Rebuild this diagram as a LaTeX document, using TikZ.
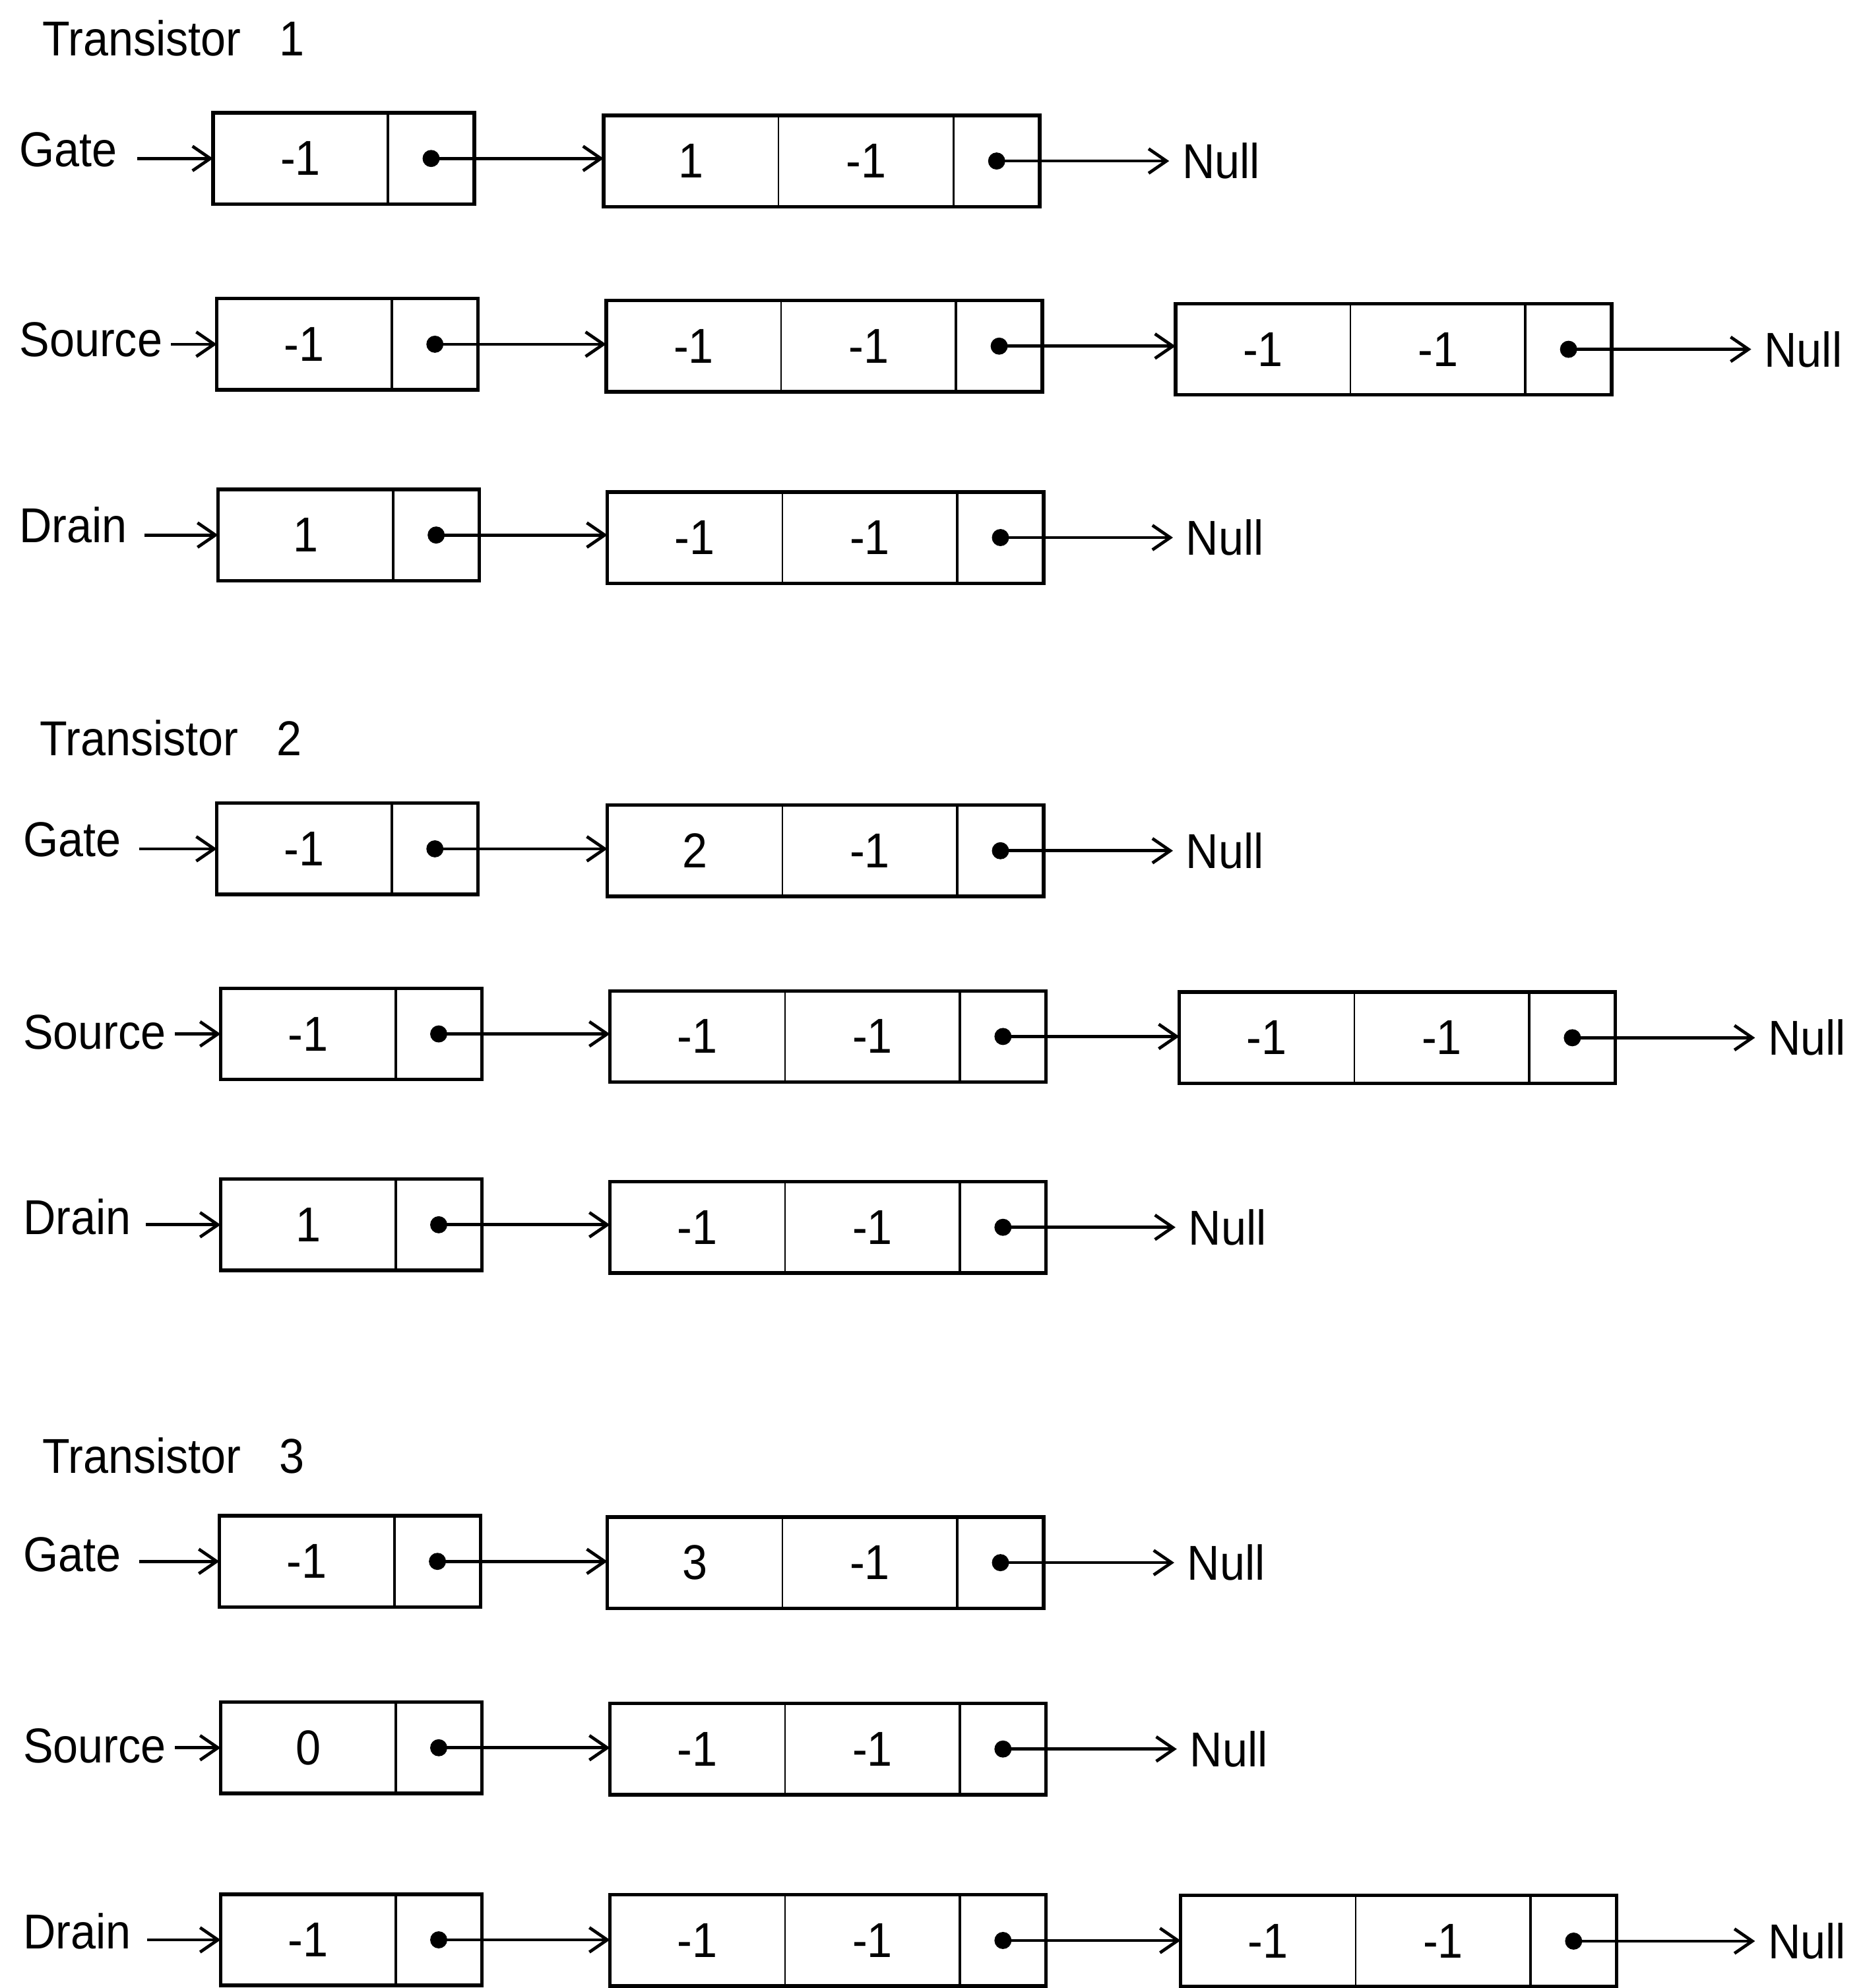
\documentclass[tikz,border=0pt]{standalone}
\usepackage{fontspec}
\setmainfont{Liberation Sans}[FakeStretch=0.92]
\usetikzlibrary{arrows.meta}
\tikzset{
  txt/.style={font=\fontsize{22}{26}\selectfont, inner sep=0pt},
  vcell/.style={txt, anchor=west, minimum width=2.76cm, minimum height=1.44cm, outer sep=0pt},
  pcell/.style={anchor=west, minimum width=1.36cm, minimum height=1.44cm, inner sep=0pt, outer sep=0pt},
  frame/.style={line width=1.6pt},
  sep/.style={line width=0.7pt},
  psep/.style={line width=1.1pt},
  ptr/.style={fill, circle, inner sep=0pt, minimum size=0.27cm},
  arr/.style={line width=1.4pt, -{Straight Barb[length=8pt,width=11pt,line width=1.4pt]}},
  lbl/.style={txt, anchor=west},
  nul/.style={txt, anchor=west, inner xsep=0.2cm},
}
% head cell of a list: value + pointer
\newcommand{\headbox}[4]{%
  \node[vcell] (#1-a) at (#2,#3) {#4};
  \node[pcell] (#1-p) at (#1-a.east) {};
  \draw[frame] (#1-a.north west) rectangle (#1-p.south east);
  \draw[psep] (#1-p.north west) -- (#1-p.south west);
  \node[ptr] (#1-d) at (#1-p.center) {};
}
% list element: two values + pointer
\newcommand{\listbox}[5]{%
  \node[vcell] (#1-a) at (#2,#3) {#4};
  \node[vcell] (#1-b) at (#1-a.east) {#5};
  \node[pcell] (#1-p) at (#1-b.east) {};
  \draw[frame] (#1-a.north west) rectangle (#1-p.south east);
  \draw[sep] (#1-b.north west) -- (#1-b.south west);
  \draw[psep] (#1-p.north west) -- (#1-p.south west);
  \node[ptr] (#1-d) at (#1-p.center) {};
}
\begin{document}
\begin{tikzpicture}[x=0.02cm, y=-0.02cm]
\fill[white] (0,0) rectangle (1469,1568);
\useasboundingbox (0,0) rectangle (1469,1568);

% ---------------- Transistor 1 ----------------
\node[lbl] (t1) at (33,30) {Transistor\hspace{0.6cm}1};

\node[lbl] (g1l) at (15,118) {Gate};
\coordinate (g1s) at (108,125);
\headbox{g1x}{168}{125}{-1}
\listbox{g1y}{476}{127}{1}{-1}
\node[nul] (g1n) at (922,127) {Null};
\draw[arr] (g1s) -- (g1x-a.west);
\draw[arr] (g1x-d.center) -- (g1x-d.center -| g1y-a.west);
\draw[arr] (g1y-d.center) -- (g1y-d.center -| g1n.west);

\node[lbl] (s1l) at (15,268) {Source};
\coordinate (s1s) at (135,271.5);
\headbox{s1x}{171}{271.5}{-1}
\listbox{s1y}{478}{273}{-1}{-1}
\listbox{s1z}{927}{275.5}{-1}{-1}
\node[nul] (s1n) at (1381,275.5) {Null};
\draw[arr] (s1s) -- (s1x-a.west);
\draw[arr] (s1x-d.center) -- (s1x-d.center -| s1y-a.west);
\draw[arr] (s1y-d.center) -- (s1y-d.center -| s1z-a.west);
\draw[arr] (s1z-d.center) -- (s1z-d.center -| s1n.west);

\node[lbl] (d1l) at (15,414) {Drain};
\coordinate (d1s) at (114,422);
\headbox{d1x}{172}{422}{1}
\listbox{d1y}{479}{424}{-1}{-1}
\node[nul] (d1n) at (925,424) {Null};
\draw[arr] (d1s) -- (d1x-a.west);
\draw[arr] (d1x-d.center) -- (d1x-d.center -| d1y-a.west);
\draw[arr] (d1y-d.center) -- (d1y-d.center -| d1n.west);

% ---------------- Transistor 2 ----------------
\node[lbl] (t2) at (31,582) {Transistor\hspace{0.6cm}2};

\node[lbl] (g2l) at (18,662) {Gate};
\coordinate (g2s) at (110,669.5);
\headbox{g2x}{171}{669.5}{-1}
\listbox{g2y}{479}{671}{2}{-1}
\node[nul] (g2n) at (925,671) {Null};
\draw[arr] (g2s) -- (g2x-a.west);
\draw[arr] (g2x-d.center) -- (g2x-d.center -| g2y-a.west);
\draw[arr] (g2y-d.center) -- (g2y-d.center -| g2n.west);

\node[lbl] (s2l) at (18,814) {Source};
\coordinate (s2s) at (138,815.5);
\headbox{s2x}{174}{815.5}{-1}
\listbox{s2y}{481}{817.5}{-1}{-1}
\listbox{s2z}{930}{818.5}{-1}{-1}
\node[nul] (s2n) at (1384,818.5) {Null};
\draw[arr] (s2s) -- (s2x-a.west);
\draw[arr] (s2x-d.center) -- (s2x-d.center -| s2y-a.west);
\draw[arr] (s2y-d.center) -- (s2y-d.center -| s2z-a.west);
\draw[arr] (s2z-d.center) -- (s2z-d.center -| s2n.west);

\node[lbl] (d2l) at (18,960) {Drain};
\coordinate (d2s) at (115,966);
\headbox{d2x}{174}{966}{1}
\listbox{d2y}{481}{968}{-1}{-1}
\node[nul] (d2n) at (927,968) {Null};
\draw[arr] (d2s) -- (d2x-a.west);
\draw[arr] (d2x-d.center) -- (d2x-d.center -| d2y-a.west);
\draw[arr] (d2y-d.center) -- (d2y-d.center -| d2n.west);

% ---------------- Transistor 3 ----------------
\node[lbl] (t3) at (33,1148) {Transistor\hspace{0.6cm}3};

\node[lbl] (g3l) at (18,1226) {Gate};
\coordinate (g3s) at (110,1231.5);
\headbox{g3x}{173}{1231.5}{-1}
\listbox{g3y}{479}{1232.5}{3}{-1}
\node[nul] (g3n) at (926,1232.5) {Null};
\draw[arr] (g3s) -- (g3x-a.west);
\draw[arr] (g3x-d.center) -- (g3x-d.center -| g3y-a.west);
\draw[arr] (g3y-d.center) -- (g3y-d.center -| g3n.west);

\node[lbl] (s3l) at (18,1377) {Source};
\coordinate (s3s) at (138,1378.5);
\headbox{s3x}{174}{1378.5}{0}
\listbox{s3y}{481}{1379.5}{-1}{-1}
\node[nul] (s3n) at (928,1379.5) {Null};
\draw[arr] (s3s) -- (s3x-a.west);
\draw[arr] (s3x-d.center) -- (s3x-d.center -| s3y-a.west);
\draw[arr] (s3y-d.center) -- (s3y-d.center -| s3n.west);

\node[lbl] (d3l) at (18,1523) {Drain};
\coordinate (d3s) at (116,1530);
\headbox{d3x}{174}{1530}{-1}
\listbox{d3y}{481}{1530.5}{-1}{-1}
\listbox{d3z}{931}{1531}{-1}{-1}
\node[nul] (d3n) at (1384,1531) {Null};
\draw[arr] (d3s) -- (d3x-a.west);
\draw[arr] (d3x-d.center) -- (d3x-d.center -| d3y-a.west);
\draw[arr] (d3y-d.center) -- (d3y-d.center -| d3z-a.west);
\draw[arr] (d3z-d.center) -- (d3z-d.center -| d3n.west);
\end{tikzpicture}
\end{document}
